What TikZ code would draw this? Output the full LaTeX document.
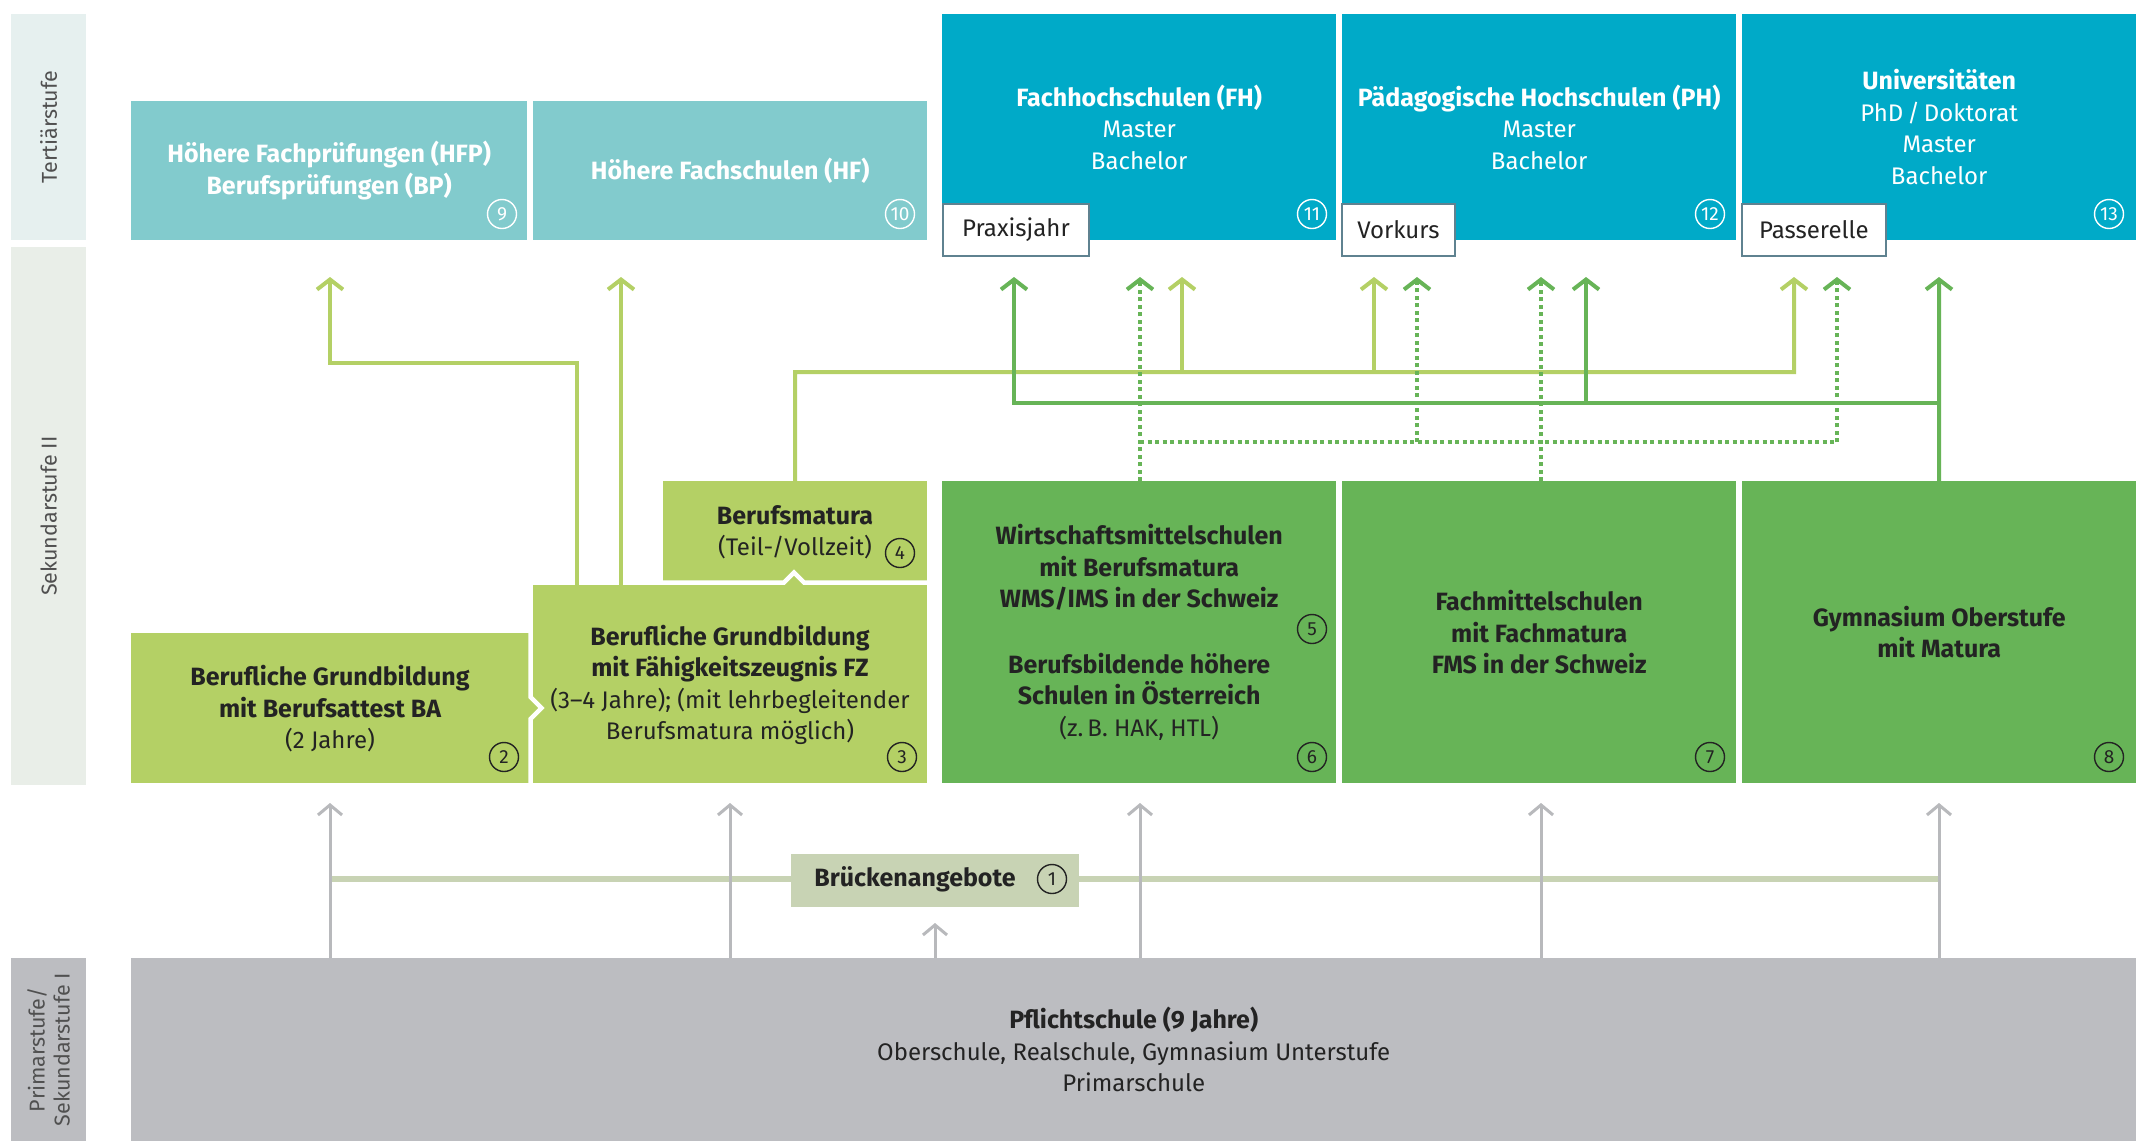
\documentclass[tikz,border=0pt]{standalone}
\usepackage{fontspec}
\setmainfont{Fira Sans}
\usetikzlibrary{arrows.meta}
\definecolor{tealA}{HTML}{82CBCD}
\definecolor{cyanB}{HTML}{00AAC8}
\definecolor{limeC}{HTML}{B4D065}
\definecolor{greenD}{HTML}{67B457}
\definecolor{bridgeE}{HTML}{C8D3B4}
\definecolor{greyF}{HTML}{BCBDC1}
\definecolor{arrowG}{HTML}{B8B9BC}
\definecolor{bandT}{HTML}{E6F0EF}
\definecolor{bandS}{HTML}{E9EEE8}
\definecolor{txtD}{HTML}{232323}
\definecolor{sideT}{HTML}{505050}
\definecolor{tabB}{HTML}{5F8290}
\newcommand\bt[1]{{\fontsize{25pt}{31.5pt}\selectfont\bfseries #1}}
\tikzset{
  blk/.style={anchor=north west, inner sep=0pt, align=center,
    font=\fontsize{24pt}{31.5pt}\selectfont},
  band/.style={anchor=north west, inner sep=0pt, fill=#1},
  sidelbl/.style={rotate=90, align=center, text=sideT,
    font=\fontsize{21.5pt}{25pt}\selectfont},
  numc/.style={circle, draw=#1, text=#1, line width=1.4pt, minimum size=29pt,
    inner sep=0pt, font=\fontsize{19pt}{19pt}\selectfont},
  tabbox/.style={anchor=north west, inner sep=0pt, fill=white, draw=tabB,
    line width=1.8pt, minimum width=146pt, minimum height=52pt, text=txtD,
    font=\fontsize{24pt}{28pt}\selectfont},
  lnL/.style={draw=limeC, line width=4pt, -{Straight Barb[length=10pt,width=26pt]}},
  lnD/.style={draw=greenD, line width=4pt, -{Straight Barb[length=10pt,width=26pt]}},
  lnDot/.style={draw=greenD, line width=4pt, dash pattern=on 4pt off 3.5pt,
    -{Straight Barb[length=10pt,width=26pt]}},
  lnDotp/.style={draw=greenD, line width=4pt, dash pattern=on 4pt off 3.5pt},
  lnG/.style={draw=arrowG, line width=3pt, -{Straight Barb[length=10pt,width=24pt]}},
  gapln/.style={draw=white, line width=4.5pt, line join=miter},
  txt/.style={align=center, text=txtD, font=\fontsize{24pt}{31.5pt}\selectfont},
}
\begin{document}
\begin{tikzpicture}[x=1pt,y=-1pt]
\useasboundingbox (0,0) rectangle (2147,1141);
\fill[white] (0,0) rectangle (2147,1141);

% side bands
\node[band=bandT, minimum width=75pt, minimum height=226pt] (bt) at (11,14) {};
\node[band=bandS, minimum width=75pt, minimum height=538pt] (bs) at (11,247) {};
\node[band=greyF, minimum width=75pt, minimum height=183pt] (bp) at (11,958) {};
\node[sidelbl] (lt) at (bt.center) {Tertiärstufe};
\node[sidelbl] (ls) at (bs.center) {Sekundarstufe II};
\node[sidelbl] (lp) at (bp.center) {Primarstufe/\\Sekundarstufe I};

% tertiary
\node[blk, fill=tealA, text=white, minimum width=396pt, minimum height=139pt] (b9) at (131,101)
  {\bt{Höhere Fachprüfungen (HFP)}\\\bt{Berufsprüfungen (BP)}};
\node[blk, fill=tealA, text=white, minimum width=394pt, minimum height=139pt] (b10) at (533,101)
  {\bt{Höhere Fachschulen (HF)}};
\node[blk, fill=cyanB, text=white, minimum width=394pt, minimum height=226pt] (b11) at (942,14)
  {\bt{Fachhochschulen (FH)}\\Master\\Bachelor};
\node[blk, fill=cyanB, text=white, minimum width=394pt, minimum height=226pt] (b12) at (1342,14)
  {\bt{Pädagogische Hochschulen (PH)}\\Master\\Bachelor};
\node[blk, fill=cyanB, text=white, minimum width=394pt, minimum height=226pt] (b13) at (1742,14)
  {\bt{Universitäten}\\PhD\,/\,Doktorat\\Master\\Bachelor};
\node[tabbox] (px) at (942,203) {Praxisjahr};
\node[tabbox, minimum width=113pt] (vk) at (1341,203) {Vorkurs};
\node[tabbox, minimum width=144pt] (ps) at (1741,203) {Passerelle};

% secondary
\node[blk, fill=limeC, text=txtD, minimum width=402pt, minimum height=150pt] (b2) at (131,633) {};
\node[blk, fill=limeC, text=txtD, minimum width=394pt, minimum height=198pt] (b3) at (533,585) {};
\node[blk, fill=limeC, text=txtD, minimum width=264pt, minimum height=104pt] (b4) at (663,481) {};
\draw[gapln] (530.5,633) -- (530.5,697) -- (541.5,708) -- (530.5,719) -- (530.5,784);
\draw[gapln] (663,582.5) -- (784,582.5) -- (794,572.5) -- (804,582.5) -- (928,582.5);
\node[txt] (t2) at (330,709)
  {\bt{Berufliche Grundbildung}\\\bt{mit Berufsattest BA}\\(2 Jahre)};
\node[txt] (t3) at (730,685)
  {\bt{Berufliche Grundbildung}\\\bt{mit Fähigkeitszeugnis FZ}\\(3–4 Jahre); (mit lehrbegleitender\\Berufsmatura möglich)};
\node[txt] (t4) at (795,532)
  {\bt{Berufsmatura}\\(Teil-/Vollzeit)};
\node[blk, fill=greenD, text=txtD, minimum width=394pt, minimum height=302pt] (b5) at (942,481)
  {\bt{Wirtschaftsmittelschulen}\\\bt{mit Berufsmatura}\\\bt{WMS/IMS in der Schweiz}\\[34pt]\bt{Berufsbildende höhere}\\\bt{Schulen in Österreich}\\(z.\,B. HAK, HTL)};
\node[blk, fill=greenD, text=txtD, minimum width=394pt, minimum height=302pt] (b7) at (1342,481)
  {\bt{Fachmittelschulen}\\\bt{mit Fachmatura}\\\bt{FMS in der Schweiz}};
\node[blk, fill=greenD, text=txtD, minimum width=394pt, minimum height=302pt] (b8) at (1742,481)
  {\bt{Gymnasium Oberstufe}\\\bt{mit Matura}};

% primary
\node[blk, fill=greyF, text=txtD, minimum width=2005pt, minimum height=183pt] (pf) at (131,958)
  {\bt{Pflichtschule (9 Jahre)}\\Oberschule, Realschule, Gymnasium Unterstufe\\Primarschule};

% bridge
\coordinate (br1) at (330,879);
\coordinate (br2) at (1939,879);
\draw[draw=bridgeE, line width=6pt] (br1) -- (br2);
\node[fill=bridgeE, minimum width=288pt, minimum height=53pt, inner sep=0pt] (bk) at (935,880.5) {};
\node[text=txtD, font=\fontsize{25pt}{28pt}\selectfont] (bkt) at (915,879) {\bt{Brückenangebote}};

% grey arrows
\coordinate (g1) at (330,803);
\coordinate (g2) at (730,803);
\coordinate (g3) at (1140,803);
\coordinate (g4) at (1541,803);
\coordinate (g5) at (1939,803);
\coordinate (gb) at (935,923);
\foreach \g in {g1,g2,g3,g4,g5,gb} \draw[lnG] (pf.north -| \g) -- (\g);

% light green connectors
\coordinate (t9) at (330,277);
\coordinate (c9) at (330,363);
\coordinate (c3) at (577,363);
\coordinate (t10) at (621,277);
\draw[lnL] (b3.north -| c3) -- (c3) -- (c9) -- (t9);
\draw[lnL] (b3.north -| t10) -- (t10);
\coordinate (c4) at (795,372);
\coordinate (c4r) at (1794,372);
\coordinate (tP) at (1794,277);
\coordinate (tFl) at (1182,277);
\coordinate (tHl) at (1374,277);
\draw[lnL] (b4.north) -- (c4) -- (c4r) -- (tP);
\draw[lnL] (c4 -| tFl) -- (tFl);
\draw[lnL] (c4 -| tHl) -- (tHl);

% dark green connectors
\coordinate (tU) at (1939,277);
\coordinate (d1) at (1939,403);
\coordinate (d2) at (1014,403);
\coordinate (tPx) at (1014,277);
\coordinate (tHd) at (1586,277);
\draw[lnD] (b8.north) -- (tU);
\draw[lnD] (d1) -- (d2) -- (tPx);
\draw[lnD] (d1 -| tHd) -- (tHd);

% dotted connectors
\coordinate (tFd) at (1140,277);
\coordinate (tHd2) at (1541,277);
\coordinate (e1) at (1140,442);
\coordinate (e2) at (1837,442);
\coordinate (tHv) at (1417,277);
\coordinate (tPs) at (1837,277);
\draw[lnDot] (b5.north -| tFd) -- (tFd);
\draw[lnDot] (b7.north -| tHd2) -- (tHd2);
\draw[lnDotp] (e1) -- (e2);
\draw[lnDot] (e1 -| tHv) -- (tHv);
\draw[lnDot] (e2) -- (tPs);

% numbers
\node[numc=white] (n9) at (502,214) {9};
\node[numc=white] (n10) at (900,214) {10};
\node[numc=white] (n11) at (1312,214) {11};
\node[numc=white] (n12) at (1710,214) {12};
\node[numc=white] (n13) at (2109,214) {13};
\node[numc=txtD] (n2) at (504,757) {2};
\node[numc=txtD] (n3) at (902,757) {3};
\node[numc=txtD] (n4) at (900,553) {4};
\node[numc=txtD] (n5) at (1312,629) {5};
\node[numc=txtD] (n6) at (1312,757) {6};
\node[numc=txtD] (n7) at (1710,757) {7};
\node[numc=txtD] (n8) at (2109,757) {8};
\node[numc=txtD] (n1) at (1052,879) {1};
\end{tikzpicture}
\end{document}
